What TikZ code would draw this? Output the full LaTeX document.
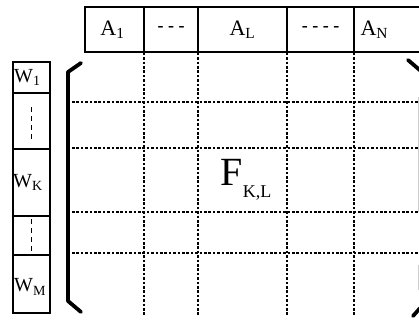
\documentclass[tikz,border=0pt]{standalone}
\usepackage{fontspec}
\setmainfont{Liberation Serif}
\begin{document}
\begin{tikzpicture}[x=1pt,y=-1pt,
  cell/.style={draw,line width=1.6pt,inner sep=0pt,outer sep=0pt,anchor=north west},
  grid/.style={line width=1.5pt,dash pattern=on 2.6pt off 1.8pt},
  bracket/.style={line width=3.8pt,line join=round,line cap=round},
  lab/.style={font=\fontsize{22}{24}\selectfont},
  dashlab/.style={font=\bfseries\fontsize{18}{20}\selectfont},
  wlab/.style={font=\fontsize{20}{22}\selectfont}]
\useasboundingbox (0,0) rectangle (419,320);
\clip (0,0) rectangle (419,320);

% column header cells
\node[cell,minimum width=59pt,minimum height=45pt] (a1) at (85,7) {};
\node[cell,minimum width=54pt,minimum height=45pt] (a2) at (144,7) {};
\node[cell,minimum width=89pt,minimum height=45pt] (a3) at (198,7) {};
\node[cell,minimum width=67pt,minimum height=45pt] (a4) at (287,7) {};
\node[cell,minimum width=80pt,minimum height=45pt] (a5) at (354,7) {};
\node[lab] at ([xshift=-2pt]a1.center) {A\textsubscript{1}};
\node[dashlab] at (a2.center) {- - -};
\node[lab] at (a3.center) {A\textsubscript{L}};
\node[dashlab] at (a4.center) {- - - -};
\node[lab,anchor=west] at ([xshift=3pt]a5.west) {A\textsubscript{N}};

% row header cells
\node[cell,minimum width=37pt,minimum height=31pt] (w1) at (13,62) {};
\node[cell,minimum width=37pt,minimum height=56pt] (w2) at (13,93) {};
\node[cell,minimum width=37pt,minimum height=67pt] (w3) at (13,149) {};
\node[cell,minimum width=37pt,minimum height=39pt] (w4) at (13,216) {};
\node[cell,minimum width=37pt,minimum height=58pt] (w5) at (13,255) {};
\node[wlab,anchor=west,inner sep=0pt] at ([xshift=1pt]w1.west) {W\textsubscript{1}};
\node[wlab,anchor=west,inner sep=0pt] at ([xshift=0pt]w3.west) {W\textsubscript{K}};
\node[wlab,anchor=west,inner sep=0pt] at ([xshift=1pt,yshift=-3pt]w5.west) {W\textsubscript{M}};
\draw[line width=1.5pt,dash pattern=on 5pt off 4pt] ([yshift=-14pt]w2.north) -- ([yshift=10pt]w2.south);
\draw[line width=1.5pt,dash pattern=on 5pt off 4pt] ([yshift=-3pt]w4.north) -- ([yshift=4pt]w4.south);

% dotted grid of the matrix
\coordinate (gl) at (72,0);
\coordinate (gr) at (425,0);
\foreach \y in {102,148,212,253}
  \draw[grid] (gl |- 0,\y) -- (gr |- 0,\y);
\foreach \n in {a2,a3,a4,a5}
  \draw[grid] ([yshift=8pt]\n.south west) -- ([yshift=0pt]\n.south west |- 0,316);

% matrix brackets
\draw[bracket] (81,63) -- (68,72) -- (68,301) -- (81,312);
\draw[bracket] (408,60) -- (422,72);
\draw[bracket] (413,316) -- (422,306);
\draw[line width=0.8pt,gray!40] (418,97) -- (418,212);
\draw[line width=0.8pt,gray!40] (418,265) -- (418,290);

% element label
\node[font=\fontsize{40}{42}\selectfont] (f) at (246,180) {F\raisebox{-0.3em}{\fontsize{18}{20}\selectfont K,L}};
\end{tikzpicture}
\end{document}
